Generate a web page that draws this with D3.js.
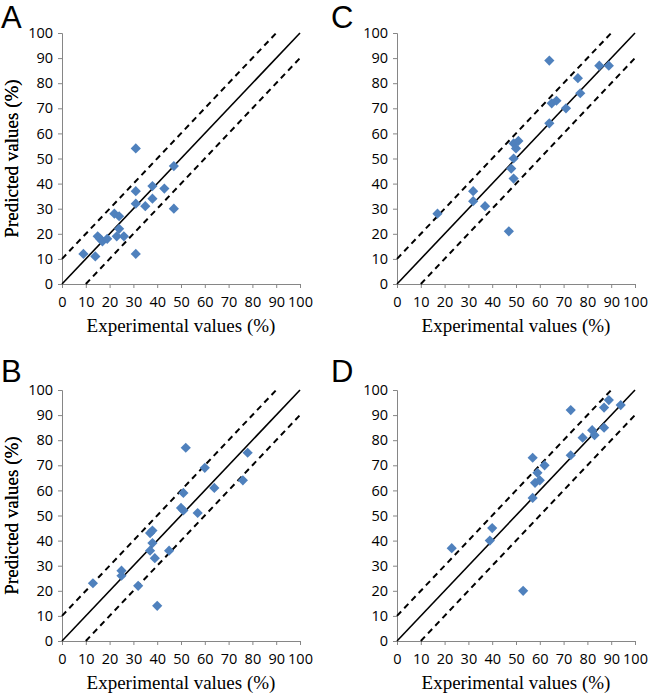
<!DOCTYPE html>
<html>
<head>
<meta charset="utf-8">
<script src="https://cdn.jsdelivr.net/npm/d3@7/dist/d3.min.js"></script>
<style>
html,body{margin:0;padding:0;background:#fff;}
svg{display:block;}
</style>
</head>
<body>
<svg id="chart" width="650" height="696"></svg>
<script>
// ---- Data ----
const tickValues = [0, 10, 20, 30, 40, 50, 60, 70, 80, 90, 100];
const panelLabels = ["A", "B", "C", "D"];

const expA  = [9, 14, 15, 16, 17, 19, 22, 24, 24, 23, 26, 31, 31, 31, 31, 35, 38, 38, 43, 47, 47];
const predA = [12, 11, 19, 18, 17, 18, 28, 27, 22, 19, 19, 54, 37, 32, 12, 31, 39, 34, 38, 47, 30];

const expB  = [13, 25, 25, 32, 37, 37, 38, 38, 39, 40, 45, 50, 51, 51, 52, 57, 60, 64, 76, 78];
const predB = [23, 28, 26, 22, 36, 43, 44, 39, 33, 14, 36, 53, 52, 59, 77, 51, 69, 61, 64, 75];

const expC  = [17, 32, 32, 37, 47, 48, 49, 49, 49, 50, 51, 64, 64, 65, 67, 71, 76, 77, 85, 89];
const predC = [28, 37, 33, 31, 21, 46, 42, 50, 56, 54, 57, 89, 64, 72, 73, 70, 82, 76, 87, 87];

const expD  = [23, 39, 40, 53, 57, 57, 58, 59, 60, 62, 73, 73, 78, 82, 83, 87, 87, 89, 94];
const predD = [37, 40, 45, 20, 73, 57, 63, 67, 64, 70, 92, 74, 81, 84, 82, 93, 85, 96, 94];

// reference lines: y = x, y = x + 10, y = x - 10
const refLines = [
  {pts: [[0, 0], [100, 100]], dashed: false},
  {pts: [[0, 10], [90, 100]], dashed: true},
  {pts: [[10, 0], [100, 90]], dashed: true}
];

// ---- Layout ----
const panels = [
  {label: panelLabels[0], x: expA, y: predA, left: 62,  top: 33,  lx: 1,   ly: 28},
  {label: panelLabels[1], x: expB, y: predB, left: 62,  top: 390, lx: 1,   ly: 382},
  {label: panelLabels[2], x: expC, y: predC, left: 397, top: 33,  lx: 331, ly: 28},
  {label: panelLabels[3], x: expD, y: predD, left: 397, top: 390, lx: 331, ly: 382}
];
const W = 238, H = 251;
const axisColor = "#868686";
const markerColor = "#4F81BD";

const svg = d3.select("#chart");

panels.forEach(p => {
  const g = svg.append("g").attr("transform", `translate(${p.left},${p.top})`);
  const xs = d3.scaleLinear().domain([0, 100]).range([0, W]);
  const ys = d3.scaleLinear().domain([0, 100]).range([H, 0]);

  // axes
  const xAxis = d3.axisBottom(xs).tickValues(tickValues).tickSize(4).tickPadding(5).tickFormat(d3.format("d"));
  const yAxis = d3.axisLeft(ys).tickValues(tickValues).tickSize(4).tickPadding(5).tickFormat(d3.format("d"));

  const gx = g.append("g").attr("transform", `translate(0,${H})`).call(xAxis);
  const gy = g.append("g").call(yAxis);
  [gx, gy].forEach(a => {
    a.select(".domain").attr("stroke", axisColor).attr("stroke-width", 1);
    a.selectAll(".tick line").attr("stroke", axisColor);
    a.selectAll(".tick text")
      .attr("fill", "#000")
      .style("font-family", "'Open Sans', sans-serif")
      .style("font-size", "14.5px");
  });
  gx.selectAll(".tick text").attr("dy", "0.95em");

  // reference lines
  const line = d3.line().x(d => xs(d[0])).y(d => ys(d[1]));
  refLines.forEach(r => {
    g.append("path")
      .attr("d", line(r.pts))
      .attr("fill", "none")
      .attr("stroke", "#000")
      .attr("stroke-width", r.dashed ? 2 : 1.6)
      .attr("stroke-dasharray", r.dashed ? "6,4.5" : null);
  });

  // points
  const sym = d3.symbol().type(d3.symbolSquare).size(52);
  g.selectAll(".pt")
    .data(p.x.map((v, i) => [v, p.y[i]]))
    .join("path")
    .attr("class", "pt")
    .attr("d", sym)
    .attr("transform", d => `translate(${xs(d[0])},${ys(d[1])}) rotate(45)`)
    .attr("fill", markerColor);

  // axis titles
  g.append("text")
    .attr("x", W / 2)
    .attr("y", H + 48)
    .attr("text-anchor", "middle")
    .style("font-family", "'Liberation Serif', 'Times New Roman', serif")
    .style("font-size", "19px")
    .attr("fill", "#000")
    .text("Experimental values (%)");

  g.append("text")
    .attr("transform", `translate(${-p.left + 18},${H / 2}) rotate(-90)`)
    .attr("text-anchor", "middle")
    .style("font-family", "'Liberation Serif', 'Times New Roman', serif")
    .style("font-size", "19px")
    .attr("fill", "#000")
    .text("Predicted values (%)");

  // panel letter
  svg.append("text")
    .attr("x", p.lx)
    .attr("y", p.ly)
    .style("font-family", "'Liberation Sans', Arial, sans-serif")
    .style("font-size", "31px")
    .attr("fill", "#000")
    .text(p.label);
});
</script>
</body>
</html>
